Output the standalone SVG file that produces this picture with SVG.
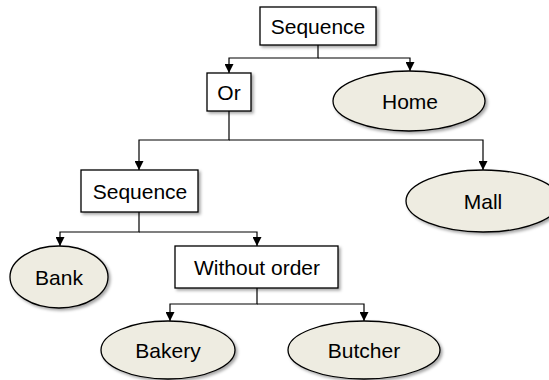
<svg xmlns="http://www.w3.org/2000/svg" width="549" height="380" viewBox="0 0 549 380">
<style>
.box{fill:#ffffff;stroke:#000;stroke-width:1.3;filter:url(#sh)}
.ell{fill:#eeece1;stroke:#000;stroke-width:1.3;filter:url(#sh)}
.lbl{font-family:"Liberation Sans",Arial,sans-serif;font-size:21px;fill:#000;text-anchor:middle;dominant-baseline:central}
.con{fill:none;stroke:#000;stroke-width:1.2;marker-end:url(#arr)}
</style>
<defs>
<filter id="sh" x="-20%" y="-20%" width="140%" height="150%">
<feDropShadow dx="2" dy="2" stdDeviation="1.5" flood-color="#000" flood-opacity="0.35"/>
</filter>
<marker id="arr" markerUnits="userSpaceOnUse" markerWidth="9" markerHeight="9" refX="9" refY="4.5" orient="auto" viewBox="0 0 9 9">
<path d="M0,0 L9,4.5 L0,9 z" fill="#000"/>
</marker>
</defs>
<rect width="549" height="380" fill="#fff"/>
<g id="connectors">
<path class="con" d="M318,45 V58 H229 V73"/>
<path class="con" d="M318,58 H410 V71"/>
<path class="con" d="M229,111 V140 H139 V170"/>
<path class="con" d="M229,140 H483 V170"/>
<path class="con" d="M139,212 V232 H60 V246"/>
<path class="con" d="M139,232 H257 V246"/>
<path class="con" d="M257,288 V304 H170 V321"/>
<path class="con" d="M257,304 H364 V321"/>
</g>
<g id="seq1"><rect class="box" x="260" y="7" width="116" height="38"/><text class="lbl" x="318" y="26">Sequence</text></g>
<g id="or"><rect class="box" x="207" y="73" width="44" height="38"/><text class="lbl" x="229" y="92">Or</text></g>
<g id="home"><ellipse class="ell" cx="409" cy="101" rx="76" ry="30"/><text class="lbl" x="410" y="101">Home</text></g>
<g id="seq2"><rect class="box" x="81" y="170" width="117" height="42"/><text class="lbl" x="140" y="191">Sequence</text></g>
<g id="mall"><ellipse class="ell" cx="483" cy="201" rx="77" ry="31"/><text class="lbl" x="483" y="201">Mall</text></g>
<g id="bank"><ellipse class="ell" cx="59" cy="277" rx="49" ry="31"/><text class="lbl" x="59" y="277">Bank</text></g>
<g id="without"><rect class="box" x="175" y="246" width="163" height="42"/><text class="lbl" x="257" y="267">Without order</text></g>
<g id="bakery"><ellipse class="ell" cx="168" cy="350" rx="67" ry="29"/><text class="lbl" x="168" y="350">Bakery</text></g>
<g id="butcher"><ellipse class="ell" cx="364" cy="350" rx="76" ry="29"/><text class="lbl" x="364" y="350">Butcher</text></g>
</svg>
